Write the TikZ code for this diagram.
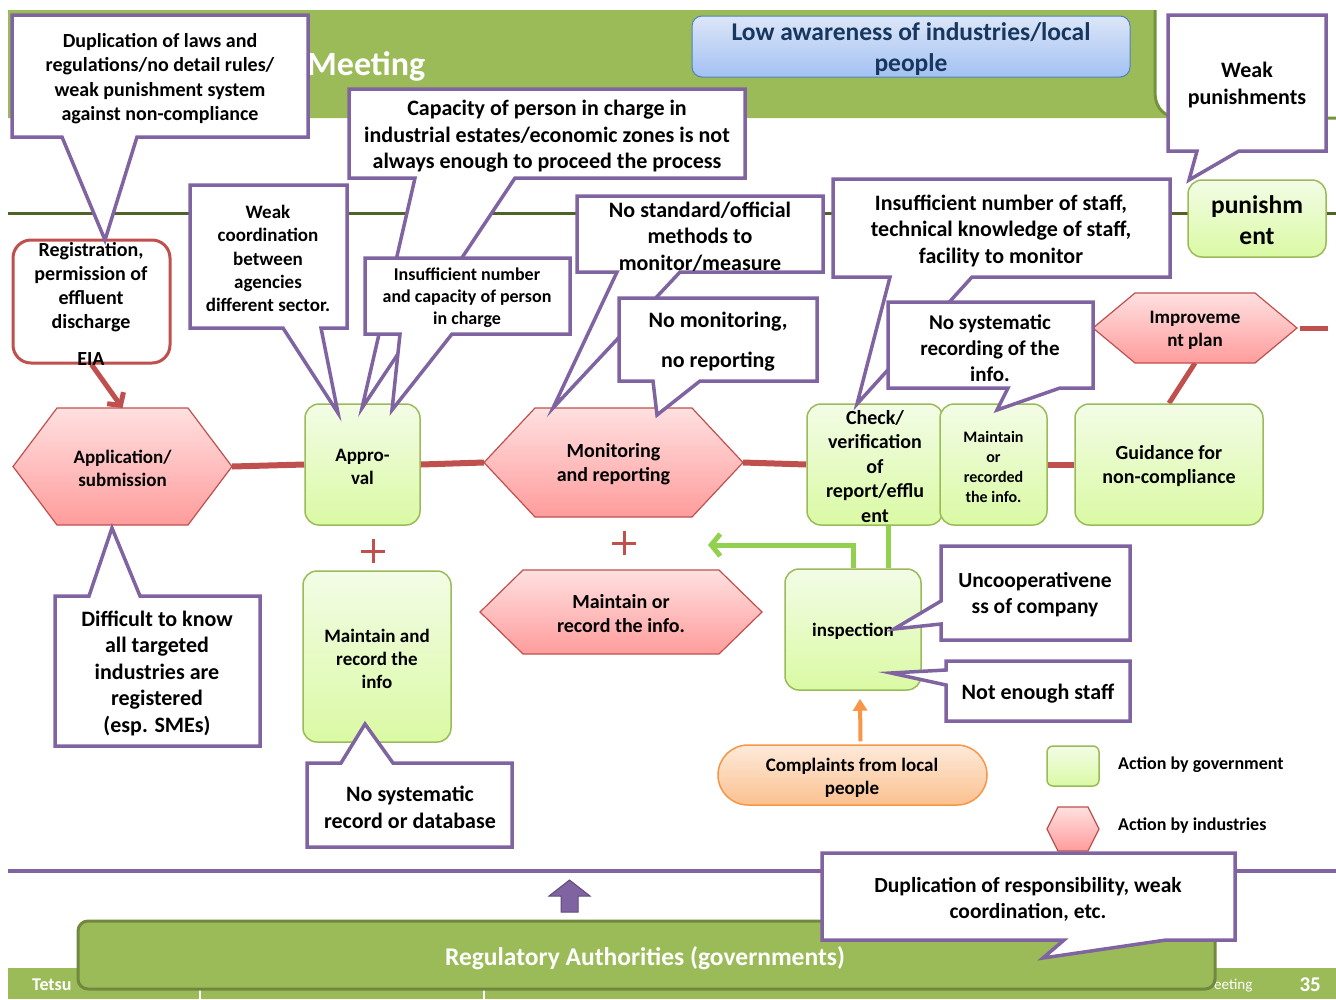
\documentclass[tikz,border=0pt]{standalone}
\usepackage{fontspec}
\setmainfont{Carlito}
\usetikzlibrary{arrows.meta}
\definecolor{cpurple}{HTML}{8064A2}
\definecolor{cred}{HTML}{C0504D}
\definecolor{cgreen}{HTML}{9BBB59}
\definecolor{cgreenline}{HTML}{92D050}
\definecolor{gtop}{HTML}{F3FCE6}
\definecolor{gbot}{HTML}{DAFAA4}
\definecolor{ptop}{HTML}{FFE0E0}
\definecolor{pbot}{HTML}{FF9C9C}
\definecolor{banddark}{HTML}{76923C}
\definecolor{olive}{HTML}{4F6228}
\definecolor{corange}{HTML}{F79646}
\definecolor{otop}{HTML}{FDEADA}
\definecolor{obot}{HTML}{FBC18F}
\definecolor{btop}{HTML}{DCE6F8}
\definecolor{bbot}{HTML}{A3C1F3}
\definecolor{bline}{HTML}{4F81BD}
\definecolor{btext}{HTML}{17375E}
\definecolor{regdark}{HTML}{71893F}
\newcommand\fsz[2]{\fontsize{#1}{#2}\selectfont\bfseries}
\pgfdeclarelayer{back}
\pgfdeclarelayer{lines}
\pgfsetlayers{back,lines,main}
\tikzset{
  lbl/.style={align=center, inner sep=0pt, yshift=-2pt},
  gbox/.style={rounded corners=14, draw=cgreen, line width=1.5, top color=gtop, bottom color=gbot, inner sep=0pt},
  hexfill/.style={draw=cred, line width=1.2, top color=ptop, bottom color=pbot},
  callout/.style={draw=cpurple, line width=3.5, fill=white, line join=miter},
  proc/.style={draw=cred, line width=6},
}
\newcommand\hexn[8]{%
  \path[hexfill] (#2-#4,#3) -- (#2-#4+#6,#3-#5) -- (#2+#4-#6,#3-#5) -- (#2+#4,#3) -- (#2+#4-#6,#3+#5) -- (#2-#4+#6,#3+#5) -- cycle;
  \coordinate (#1-w) at (#2-#4,#3);
  \coordinate (#1-e) at (#2+#4,#3);
  \coordinate (#1-n) at (#2,#3-#5);
  \coordinate (#1-s) at (#2,#3+#5);
  \node[lbl, font=#7] (#1) at (#2,#3) {#8};
}
\newcommand\gnode[7]{%
  \node[gbox, minimum width=#4, minimum height=#5] (#1) at (#2,#3) {};
  \node[lbl, font=#6] (#1-t) at (#2,#3) {#7};
}
\begin{document}
\begin{tikzpicture}[x=1pt,y=-1pt]
\useasboundingbox (0,0) rectangle (1336,999);
\begin{pgfonlayer}{back}
\fill[white] (0,0) rectangle (1336,999);
% top band
\fill[cgreen] (8,10) -- (1155,10) -- (1155,93) .. controls (1155,108) and (1165,118) .. (1180,118) -- (8,118) -- cycle;
\draw[banddark, line width=3] (1155,10) -- (1155,93) .. controls (1155,108) and (1165,118) .. (1180,118) -- (1336,118);
\node[anchor=base west, text=white, inner sep=0pt, font=\fsz{34}{40}] (title) at (307,75) {Meeting};
\draw[olive, line width=3] (8,213) -- (1336,213);
\draw[cpurple, line width=4] (8,871) -- (1336,871);
% footer
\fill[cgreen] (8,968) rectangle (1336,999);
\draw[white, line width=2] (200,988) -- (200,999) (484,988) -- (484,999);
\node[anchor=base west, text=white, inner sep=0pt, font=\fsz{18}{21}] (ft1) at (32,990) {Tetsu};
\node[anchor=base west, text=white, inner sep=0pt, font=\fontsize{15}{18}\selectfont] (ft2) at (1214,989) {eeting};
\node[anchor=base east, text=white, inner sep=0pt, font=\fsz{21}{25}] (pg) at (1321,991) {35};
\end{pgfonlayer}

% low awareness
\node[draw=bline, line width=1, rounded corners=10, top color=btop, bottom color=bbot, minimum width=438, minimum height=61] (low) at (911,46.5) {};
\node[lbl, text=btext, font=\fsz{25.5}{31}] (low-t) at (911,47) {Low awareness of industries/local\\people};

% registration
\node[draw=cred, line width=3, rounded corners=18, fill=white, minimum width=157, minimum height=123] (reg) at (91.5,301.5) {};
\node[lbl, font=\fsz{20}{24}] (reg-t) at (91,285) {Registration,\\permission of\\effluent\\discharge};
\node[lbl, font=\fsz{20}{24}] (eia) at (91,357) {EIA};

% hexagons
\hexn{app}{122.5}{466.5}{109.5}{58.5}{44}{\fsz{19}{23}}{Application/\\submission}
\hexn{mon}{613.5}{462.5}{129.5}{54.5}{51}{\fsz{20}{24}}{Monitoring\\and reporting}
\hexn{mhex}{621}{612}{141}{42}{43}{\fsz{20}{24}}{Maintain or\\record the info.}
\hexn{imp}{1195}{328}{102}{35}{42}{\fsz{19}{23}}{Improveme\\nt plan}
\hexn{leghex}{1073}{829}{26}{22}{11}{\fsz{10}{12}}{}

% green boxes
\gnode{appr}{362.5}{464.5}{115}{121}{\fsz{19}{23}}{Appro-\\val}
\gnode{mrec}{377}{656.5}{148}{171}{\fsz{19}{23}}{Maintain and\\record the\\info}
\gnode{chk}{875}{464.5}{136}{121}{\fsz{20}{24.5}}{Check/\\verification\\of\\report/efflu\\ent}
\gnode{mrc}{993.5}{464.5}{107}{121}{\fsz{16}{20}}{Maintain\\or\\recorded\\the info.}
\gnode{guid}{1169}{464.5}{188}{121}{\fsz{20}{24}}{Guidance for\\non-compliance}
\gnode{pun}{1257}{218.5}{138}{77}{\fsz{25.5}{31}}{punishm\\ent}
\gnode{insp}{853}{629.5}{136}{121}{\fsz{19}{23}}{inspection}
\node[gbox, rounded corners=6, minimum width=52, minimum height=40] (legsq) at (1073,766) {};
\node[anchor=west, inner sep=0pt, font=\fsz{18}{22}] (leg1) at (1118,765) {Action by government};
\node[anchor=west, inner sep=0pt, font=\fsz{18}{22}] (leg2) at (1118,826) {Action by industries};

% complaints
\node[draw=corange, line width=1.5, rounded corners=30, top color=otop, bottom color=obot, minimum width=269, minimum height=60] (cmp) at (852.5,775) {};
\node[lbl, font=\fsz{19}{23}] (cmp-t) at (852,775.5) {Complaints from local\\people};

% connectors
\coordinate (gtip) at (708,545);
\coordinate (stub) at (1328,328);
\begin{pgfonlayer}{lines}
\draw[proc] (app-e) -- (appr.west);
\draw[proc] (appr.east) -- (mon-w);
\draw[proc] (mon-e) -- (chk.west);
\draw[proc] (mrc.east) -- (guid.west);
\draw[cred, line width=5] (imp-s) -- (guid.north);
\draw[cred, line width=5] ([xshift=3]imp-e) -- (stub);
\draw[cred, line width=5, -{Straight Barb[length=9pt,width=20pt]}] (reg.south) -- (app-n);
\draw[cgreenline, line width=5, -{Straight Barb[length=9pt,width=22pt]}] (insp.north) |- (gtip);
\draw[cgreenline, line width=5] ([xshift=13]chk.south) -- ([xshift=35]insp.north);
\draw[corange, line width=4, -{Triangle[length=12pt,width=14pt]}] ([xshift=8,yshift=3]cmp.north) -- ([xshift=7,yshift=-8]insp.south);
\end{pgfonlayer}

% plus signs
\draw[cred, line width=3] (361,551) -- (385,551) (373,539) -- (373,563);
\draw[cred, line width=3] (612,543) -- (636,543) (624,531) -- (624,555);

% callouts
\path[callout] (12,15) -- (308,15) -- (308,137) -- (137,137) -- (105,240) -- (62,137) -- (12,137) -- cycle;
\node[lbl, font=\fsz{20}{24.5}] (cA) at (160,76.5) {Duplication of laws and\\regulations/no detail rules/\\weak punishment system\\against non-compliance};

\path[callout] (190,185) -- (347,185) -- (347,328) -- (321,328) -- (338,413) -- (283,328) -- (190,328) -- cycle;
\node[lbl, font=\fsz{19}{23.3}] (cB) at (268,256.5) {Weak\\coordination\\between\\agencies\\different sector.};

\path[callout] (349,89) -- (745,89) -- (745,178) -- (515,178) -- (362,408) -- (415,178) -- (349,178) -- cycle;
\node[lbl, font=\fsz{22}{26.5}] (cC) at (547,134.5) {Capacity of person in charge in\\industrial estates/economic zones is not\\always enough to proceed the process};

\path[callout] (365,258) -- (570,258) -- (570,334) -- (452,334) -- (392,410) -- (400,334) -- (365,334) -- cycle;
\node[lbl, font=\fsz{18}{22}] (cD) at (467,296) {Insufficient number\\and capacity of person\\in charge};

\path[callout] (577,196) -- (823,196) -- (823,272) -- (680,272) -- (553,408) -- (617,272) -- (577,272) -- cycle;
\node[lbl, font=\fsz{22}{26.5}] (cE) at (700,234.5) {No standard/official\\methods to\\monitor/measure};

\path[callout] (619,298) -- (817,298) -- (817,381) -- (700,381) -- (657,415) -- (653,381) -- (619,381) -- cycle;
\node[lbl, font=\fsz{22}{27}] (cF) at (718,340) {No monitoring,\\[13pt]no reporting};

\path[callout] (833,179) -- (1170,179) -- (1170,277) -- (972,277) -- (857,404) -- (890,277) -- (833,277) -- cycle;
\node[lbl, font=\fsz{22}{26.5}] (cG) at (1001,228.5) {Insufficient number of staff,\\technical knowledge of staff,\\facility to monitor};

\path[callout] (888,302) -- (1093,302) -- (1093,388) -- (1060,388) -- (997,410) -- (1008,388) -- (888,388) -- cycle;
\node[lbl, font=\fsz{21}{26}] (cH) at (990,346) {No systematic\\recording of the\\info.};

\path[callout] (1168,15) -- (1326,15) -- (1326,151) -- (1239,151) -- (1189,180) -- (1197,151) -- (1168,151) -- cycle;
\node[lbl, font=\fsz{22}{27}] (cI) at (1247,83.5) {Weak\\punishments};

\path[callout] (55,596) -- (89,596) -- (112,528) -- (140,596) -- (260,596) -- (260,746) -- (55,746) -- cycle;
\node[lbl, font=\fsz{22}{26.5}] (cJ) at (157,671) {Difficult to know\\all targeted\\industries are\\registered\\(esp. SMEs)};

\path[callout] (307,763) -- (341,763) -- (365,724) -- (393,763) -- (512,763) -- (512,847) -- (307,847) -- cycle;
\node[lbl, font=\fsz{22}{27}] (cK) at (410,805.5) {No systematic\\record or database};

\path[callout] (941,546) -- (1130,546) -- (1130,640) -- (941,640) -- (941,624) -- (894,629) -- (941,601) -- cycle;
\node[lbl, font=\fsz{21.5}{26}] (cL) at (1035,593) {Uncooperativene\\ss of company};

\path[callout] (946,661) -- (1130,661) -- (1130,721) -- (946,721) -- (946,685) -- (891,673) -- (946,670) -- cycle;
\node[lbl, font=\fsz{22}{27}] (cM) at (1038,692) {Not enough staff};

% purple up arrow
\draw[fill=cpurple, draw=cpurple!75!black, line width=1] (561,912) -- (578,912) -- (578,896) -- (590,896) -- (569.5,880) -- (549,896) -- (561,896) -- cycle;

% regulatory authorities
\node[draw=regdark, line width=3, rounded corners=10, fill=cgreen, minimum width=1137, minimum height=68] (regauth) at (646.5,955) {};
\node[lbl, text=white, font=\fsz{25.5}{30}] (regauth-t) at (645,956) {Regulatory Authorities (governments)};

\path[callout] (822,853) -- (1235,853) -- (1235,940) -- (1166,940) -- (1043,958) -- (1064,940) -- (822,940) -- cycle;
\node[lbl, font=\fsz{21.5}{26}] (cN) at (1028,897) {Duplication of responsibility, weak\\coordination, etc.};
\end{tikzpicture}
\end{document}
